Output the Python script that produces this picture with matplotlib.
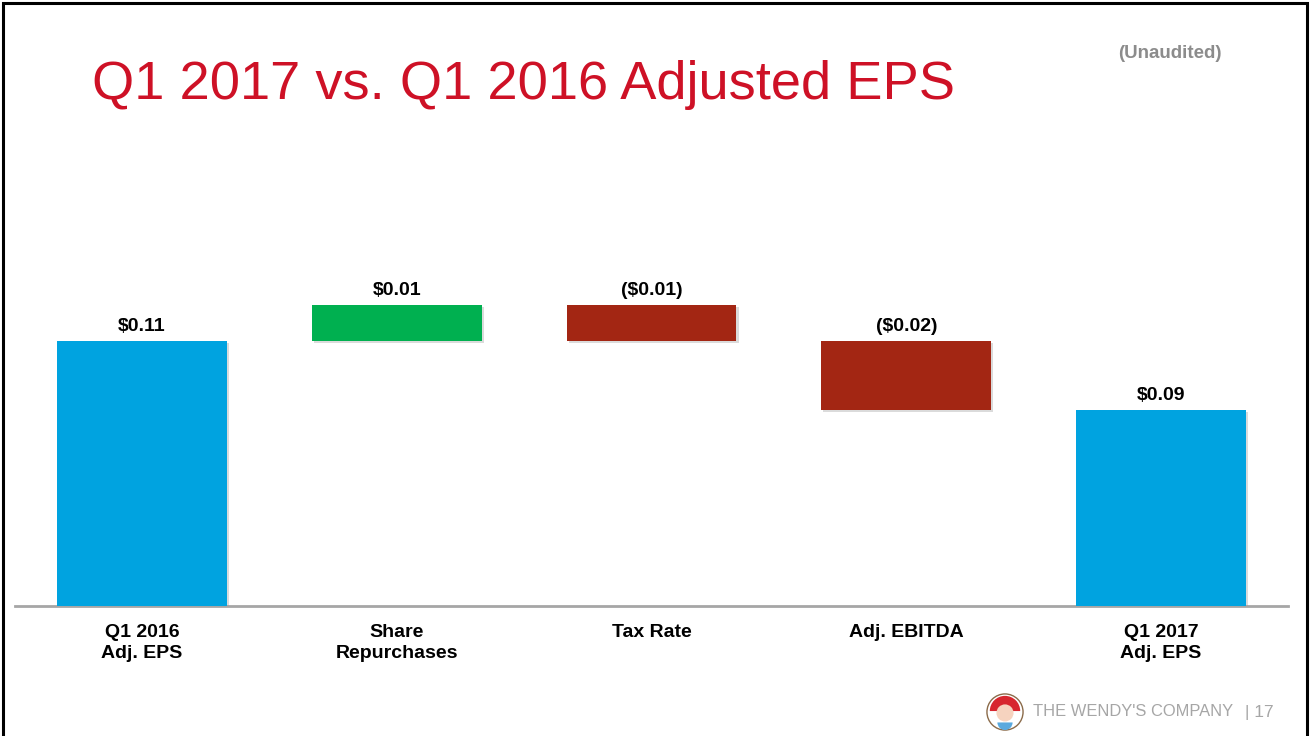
import matplotlib
matplotlib.use('Agg')
import matplotlib.pyplot as plt
import matplotlib.patheffects as pe
from matplotlib.patches import Rectangle, Circle, Wedge

plt.rcParams['font.family'] = ['Liberation Sans', 'DejaVu Sans']

# ---- data ----
categories = ['Q1 2016\nAdj. EPS', 'Share\nRepurchases', 'Tax Rate',
              'Adj. EBITDA', 'Q1 2017\nAdj. EPS']
# change per step (totals for first/last)
deltas = [0.110, 0.015, -0.015, -0.0285, 0.0815]
kinds = ['total', 'up', 'down', 'down', 'total']
value_labels = ['$0.11', '$0.01', '($0.01)', '($0.02)', '$0.09']

colors = {'total': '#00A3E0', 'up': '#00B050', 'down': '#A32613'}

fig = plt.figure(figsize=(13.1, 7.36), dpi=100)
W, H = 1310, 736

# frame around slide
fig.patches.append(Rectangle((3 / W, -0.01), (W - 6) / W, 1 - 3 / H + 0.01,
                             transform=fig.transFigure, fill=False,
                             edgecolor='black', linewidth=2.2))

ax = fig.add_axes([14.6 / W, (H - 606) / H, (1288.4 - 14.6) / W, 356 / H])

running = 0.0
for i, (d, k) in enumerate(zip(deltas, kinds)):
    if k == 'total':
        bottom, height = 0.0, d
        running = d
    else:
        bottom = running if d > 0 else running + d
        height = abs(d)
        running += d
    ax.bar(i, height, bottom=bottom, width=0.667, color=colors[k],
           zorder=3,
           path_effects=[pe.SimplePatchShadow(offset=(1.5, -1.5),
                                              shadow_rgbFace='#999999',
                                              alpha=0.35), pe.Normal()])
    ax.annotate(value_labels[i], (i, bottom + height), xytext=(0, 7),
                textcoords='offset points', ha='center', va='baseline',
                fontsize=14, fontweight='bold', color='black')

ax.set_xlim(-0.5, 4.5)
ax.set_ylim(0, 0.1478)
for s in ['top', 'right', 'left']:
    ax.spines[s].set_visible(False)
ax.spines['bottom'].set_color('#A6A6A6')
ax.spines['bottom'].set_linewidth(2)
ax.set_yticks([])
ax.set_xticks(range(len(categories)))
ax.set_xticklabels(categories, fontsize=14, fontweight='bold',
                   linespacing=1.27)
ax.tick_params(axis='x', length=0, pad=13)

# title and notes
fig.text(92 / W, 1 - 99 / H, 'Q1 2017 vs. Q1 2016 Adjusted EPS',
         fontsize=39.1, color='#CE1126', ha='left', va='baseline')
fig.text(1170 / W, 1 - 54 / H, '(Unaudited)', fontsize=13.5,
         fontweight='bold', color='#8C8C8C', ha='center', va='center')

# footer
fig.text(1033 / W, 1 - 712 / H, "THE WENDY'S COMPANY", fontsize=11.9,
         color='#A6A6A6', ha='left', va='center')
fig.text(1245 / W, 1 - 712 / H, '| 17', fontsize=12.5,
         color='#A6A6A6', ha='left', va='center')

# simple logo
lax = fig.add_axes([986 / W, 1 - 731 / H, 38 / W, 38 / H])
lax.set_xlim(-1, 1)
lax.set_ylim(-1, 1)
lax.set_aspect('equal')
lax.axis('off')
lax.add_patch(Circle((0, 0), 0.95, facecolor='white', edgecolor='#8B6B4A',
                     linewidth=1))
lax.add_patch(Wedge((0, 0.05), 0.8, 0, 180, facecolor='#D7262E'))
lax.add_patch(Circle((0, -0.05), 0.45, facecolor='#F6D3BF'))
lax.add_patch(Wedge((0, -0.55), 0.4, 180, 360, facecolor='#5AA9DE'))

fig.savefig('out.png', dpi=100)
